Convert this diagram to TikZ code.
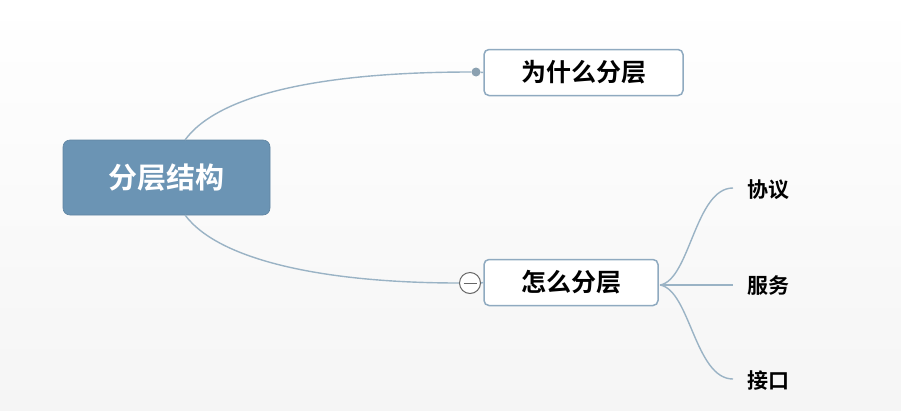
\documentclass[tikz,border=0pt]{standalone}
\usepackage{fontspec}
\newfontfamily\cjk{Noto Sans CJK SC}[BoldFont={Noto Sans CJK SC Bold}]
\begin{document}
\begin{tikzpicture}[x=1pt,y=-1pt,
  conn/.style={draw=linec,line width=1.4pt},
  rootbox/.style={rectangle,rounded corners=7pt,fill=rootc,draw=rootc!90!black,line width=0.6pt,minimum width=207pt,minimum height=75pt,text=white,font=\cjk\bfseries\fontsize{29}{29}\selectfont},
  subbox/.style={rectangle,rounded corners=5pt,fill=white,draw=boxc,line width=1.5pt,minimum height=46pt,font=\cjk\bfseries\fontsize{25}{25}\selectfont},
  leaf/.style={font=\cjk\bfseries\fontsize{21}{21}\selectfont,anchor=west,inner sep=0pt}]
\definecolor{rootc}{HTML}{6B94B4}
\definecolor{boxc}{HTML}{8FAAC0}
\definecolor{linec}{HTML}{9AB3C5}
\definecolor{bgc}{HTML}{F5F5F5}
\shade[top color=white,bottom color=bgc] (0,0) rectangle (901,410);
\useasboundingbox (0,0) rectangle (901,410);
\node[rootbox] (root) at (166.5,177.5) {\raisebox{-2pt}{分层结构}};
\node[subbox,minimum width=199pt] (why) at (583.5,72.5) {为什么分层};
\node[subbox,minimum width=174pt] (how) at (571,282.5) {怎么分层};
\coordinate (rt) at (185,140);
\coordinate (rb) at (185,215);
\node[circle,fill=linec!90!black,inner sep=0pt,minimum size=9pt] (dot) at (476,72) {};
\node[circle,draw=gray!80!black,fill=white,line width=1pt,inner sep=0pt,minimum size=21pt] (col) at (470,283) {};
\draw[gray!80!black,line width=1pt] ([xshift=-6.5pt]col.center) -- ([xshift=6.5pt]col.center);
\draw[conn] (rt) .. controls (220,92) and (330,72) .. (dot.west);
\draw[conn] (dot) -- (why.west);
\draw[conn] (rb) .. controls (220,262) and (330,283) .. (col.west);
\draw[conn] (col.east) -- (how.west);
\node[leaf] (l1) at (747,190) {协议};
\node[leaf] (l2) at (747,286) {服务};
\node[leaf] (l3) at (747,381) {接口};
\coordinate (hs) at (660,285);
\coordinate (e1) at (733,188);
\coordinate (e2) at (733,285);
\coordinate (e3) at (733,379);
\draw[conn] (hs) .. controls (690,280) and (695,188) .. (e1);
\draw[conn] (hs) -- (e2);
\draw[conn] (hs) .. controls (690,290) and (695,379) .. (e3);
\end{tikzpicture}
\end{document}
